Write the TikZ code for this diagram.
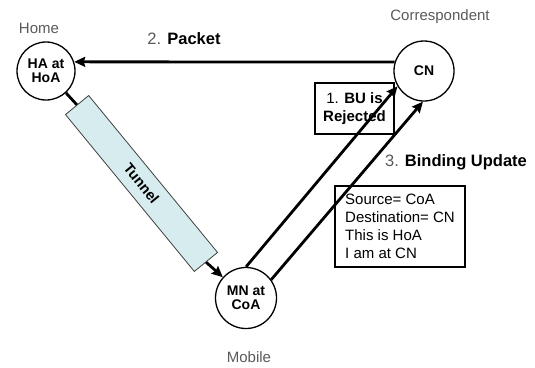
\documentclass[tikz,border=0pt]{standalone}
\usepackage{fontspec}
\setmainfont{Liberation Sans}
\usetikzlibrary{arrows.meta}

\definecolor{tunnelfill}{HTML}{D6ECEE}
\definecolor{labelgray}{HTML}{5A5A5A}

\begin{document}
\begin{tikzpicture}[x=1pt,y=-1pt,>={Stealth[length=11pt,width=10pt,inset=1.5pt]},
    main node/.style={circle,draw,line width=1.3pt,inner sep=0pt,align=center,
      font=\fontsize{14}{14}\selectfont\bfseries},
    place/.style={text=labelgray,font=\fontsize{15}{15}\selectfont},
    step label/.style={font=\fontsize{16.5}{18}\selectfont},
    msg box/.style={draw,line width=1.1pt,inner sep=2pt,font=\fontsize{15}{18}\selectfont},
    msg/.style={->,line width=2.8pt}]

  \useasboundingbox (0,0) rectangle (535,367);

  % the three hosts
  \node[main node,minimum size=58pt] (HA) at (46,71) {HA at\\HoA};
  \node[main node,minimum size=60pt] (CN) at (424,71) {CN};
  \node[main node,minimum size=61pt] (MN) at (246,298) {MN at\\CoA};

  \node[place] (home) at (39,28) {Home};
  \node[place] (corr) at (440,17) {Correspondent};
  \node[place] (mob) at (249,357) {Mobile};

  \node[draw=black!75,fill=tunnelfill,line width=0.8pt,rotate=-50.6,
    minimum width=203pt,minimum height=30pt,
    font=\fontsize{14.5}{15}\selectfont\bfseries] (Tun) at (141.5,183.5) {Tunnel};

  % message boxes
  \node[msg box,align=center,minimum width=79pt,minimum height=51pt] (rej) at (354.5,108.5)
    {1. \textbf{BU is}\\\textbf{Rejected}};
  \node[msg box,align=left,minimum width=130pt,minimum height=81pt] (bu) at (400,226.5)
    {Source= CoA\\Destination= CN\\This is HoA\\I am at CN};

  \node[step label] (pkt) at (184,39) {{\color{labelgray}2.} \textbf{Packet}};
  \node[step label] (upd) at (456,162) {{\color{labelgray}3.} \textbf{Binding Update}};

  \path[msg]
    (CN.163) edge (HA.18)
    (MN.90) edge (CN.210)
    (MN.36) edge (CN.268)
    (Tun.east) edge (MN)
    (HA) edge[-] (Tun.west);

\end{tikzpicture}
\end{document}
